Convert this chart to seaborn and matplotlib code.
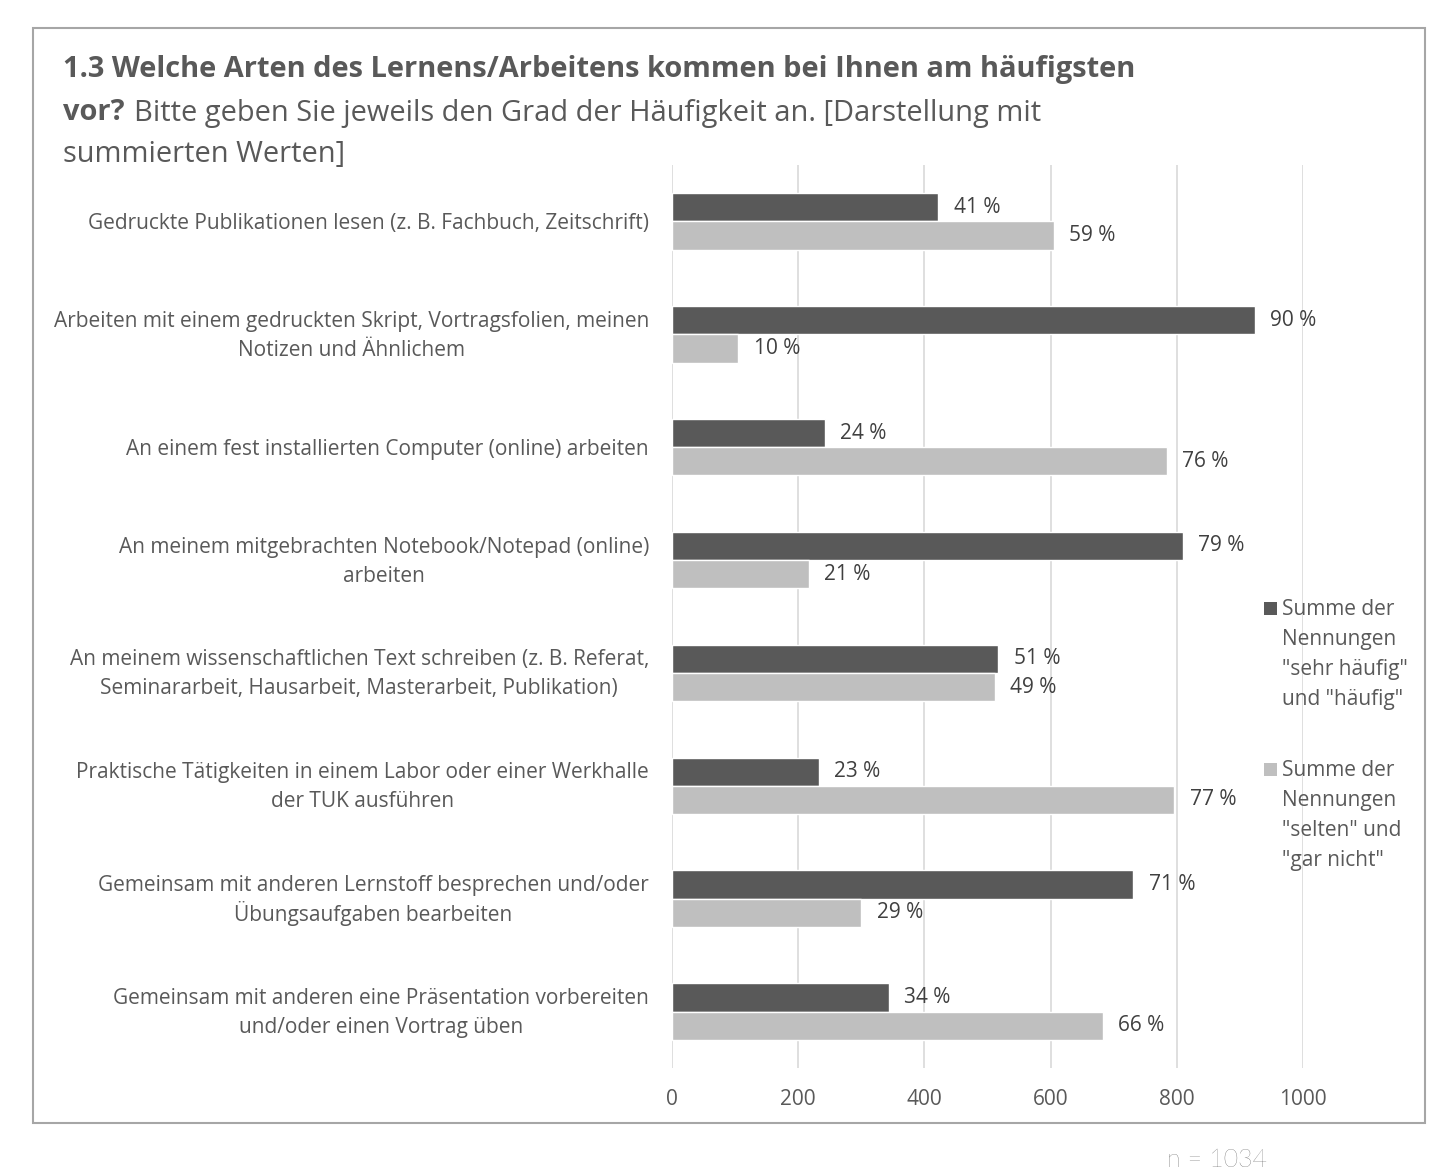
import matplotlib
matplotlib.use("Agg")
import matplotlib.pyplot as plt
import matplotlib.transforms as mtrans
import seaborn as sns
import pandas as pd
from matplotlib.patches import Rectangle

categories = [
    "Gedruckte Publikationen lesen (z. B. Fachbuch, Zeitschrift)",
    "Arbeiten mit einem gedruckten Skript, Vortragsfolien, meinen\nNotizen und Ähnlichem",
    "An einem fest installierten Computer (online) arbeiten",
    "An meinem mitgebrachten Notebook/Notepad (online)\narbeiten",
    "An meinem wissenschaftlichen Text schreiben (z. B. Referat,\nSeminararbeit, Hausarbeit, Masterarbeit, Publikation)",
    "Praktische Tätigkeiten in einem Labor oder einer Werkhalle\nder TUK ausführen",
    "Gemeinsam mit anderen Lernstoff besprechen und/oder\nÜbungsaufgaben bearbeiten",
    "Gemeinsam mit anderen eine Präsentation vorbereiten\nund/oder einen Vortrag üben",
]
series_names = [
    'Summe der\nNennungen\n"sehr häufig"\nund "häufig"',
    'Summe der\nNennungen\n"selten" und\n"gar nicht"',
]
counts_often = [422, 924, 242, 810, 517, 233, 731, 344]
counts_rare = [605, 105, 784, 217, 512, 796, 300, 683]
pct_often = [41, 90, 24, 79, 51, 23, 71, 34]
pct_rare = [59, 10, 76, 21, 49, 77, 29, 66]
x_ticks = [0, 200, 400, 600, 800, 1000]

df = pd.DataFrame({
    "cat": categories * 2,
    "value": counts_often + counts_rare,
    "series": [series_names[0]] * len(categories) + [series_names[1]] * len(categories),
})

sns.set_theme(style="white")
plt.rcParams["font.family"] = ["Open Sans", "DejaVu Sans"]

W, H = 1444, 1174
fig = plt.figure(figsize=(W / 100, H / 100), dpi=100)
fig.patch.set_facecolor("white")

text_col = "#595959"
dark = "#595959"
light = "#bfbfbf"
fs = 15

ax_w = 1303 - 672
ax = fig.add_axes([672 / W, 1 - 1068 / H, ax_w / W, (1068 - 165) / H])
sns.barplot(data=df, y="cat", x="value", hue="series", order=categories,
            hue_order=series_names, palette=[dark, light], width=0.5,
            orient="h", ax=ax, legend=False, saturation=1)

ax.set_xlim(0, 1000)
ax.set_ylim(len(categories) - 0.5, -0.5)
ax.set_xticks(x_ticks)
ax.set_xticklabels([str(t) for t in x_ticks])
ax.set_xlabel("")
ax.set_ylabel("")
for s in ax.spines.values():
    s.set_visible(False)
ax.grid(axis="x", color="#d9d9d9", linewidth=1.2)
ax.grid(axis="y", visible=False)
ax.set_axisbelow(True)
ax.tick_params(axis="x", length=0, pad=15, labelsize=fs, labelcolor=text_col)
ax.tick_params(axis="y", length=0, labelleft=False)

# category labels (drawn as text so two-line labels can be centred precisely)
base = mtrans.blended_transform_factory(ax.transAxes, ax.transData)
for i, cat in enumerate(categories):
    multi = "\n" in cat
    off = mtrans.ScaledTranslation(0, (-1.5 if multi else -2) / 100, fig.dpi_scale_trans)
    ls = 1.25 if cat.split("\n")[-1].startswith("Ü") else 1.5
    ax.text(-23 / ax_w, i, cat, transform=base + off, ha="right", va="center",
            multialignment="center", fontsize=fs, color=text_col, linespacing=ls)

pcts = [pct_often, pct_rare]
for cont, p in zip(ax.containers, pcts):
    ax.bar_label(cont, labels=[f"{v} %" for v in p], padding=11,
                 fontsize=fs, color="#404040")

# legend (handle aligned with first text line)
colors = [dark, light]
leg_y = [608, 769]
for name, c, y in zip(series_names, colors, leg_y):
    fig.patches.append(Rectangle((1264 / W, 1 - (y + 7) / H), 13 / W, 13 / H,
                                 transform=fig.transFigure, facecolor=c,
                                 edgecolor="none"))
    fig.text(1282 / W, 1 - (y - 9) / H, name, fontsize=fs, color=text_col,
             va="top", ha="left", linespacing=1.56)

# frame
fig.patches.append(Rectangle((33 / W, 1 - 1123 / H), (1425 - 33) / W, (1123 - 28) / H,
                             transform=fig.transFigure, fill=False,
                             edgecolor="#a6a6a6", linewidth=1.5, zorder=0))

# title
tsize = 20.9
fig.text(63 / W, 1 - 70 / H, "1.3 Welche Arten des Lernens/Arbeitens kommen bei Ihnen am häufigsten",
         fontsize=tsize, fontweight="bold", color=text_col, va="center", ha="left")
t2 = fig.text(63 / W, 1 - 113 / H, "vor?", fontsize=tsize, fontweight="bold",
              color=text_col, va="center", ha="left")
r = fig.canvas.get_renderer()
bb = t2.get_window_extent(renderer=r)
fig.text((bb.x1 + 9) / W, 1 - 113 / H,
         "Bitte geben Sie jeweils den Grad der Häufigkeit an. [Darstellung mit",
         fontsize=tsize, color=text_col, va="center", ha="left")
fig.text(63 / W, 1 - 155 / H, "summierten Werten]", fontsize=tsize,
         color=text_col, va="center", ha="left")

fig.text(1217 / W, 1 - 1172 / H, "n = 1034", fontsize=18, color="#404040",
         va="bottom", ha="center", family=["Lato", "DejaVu Sans"], fontweight="light")

fig.savefig("out.png", dpi=100, facecolor="white")
